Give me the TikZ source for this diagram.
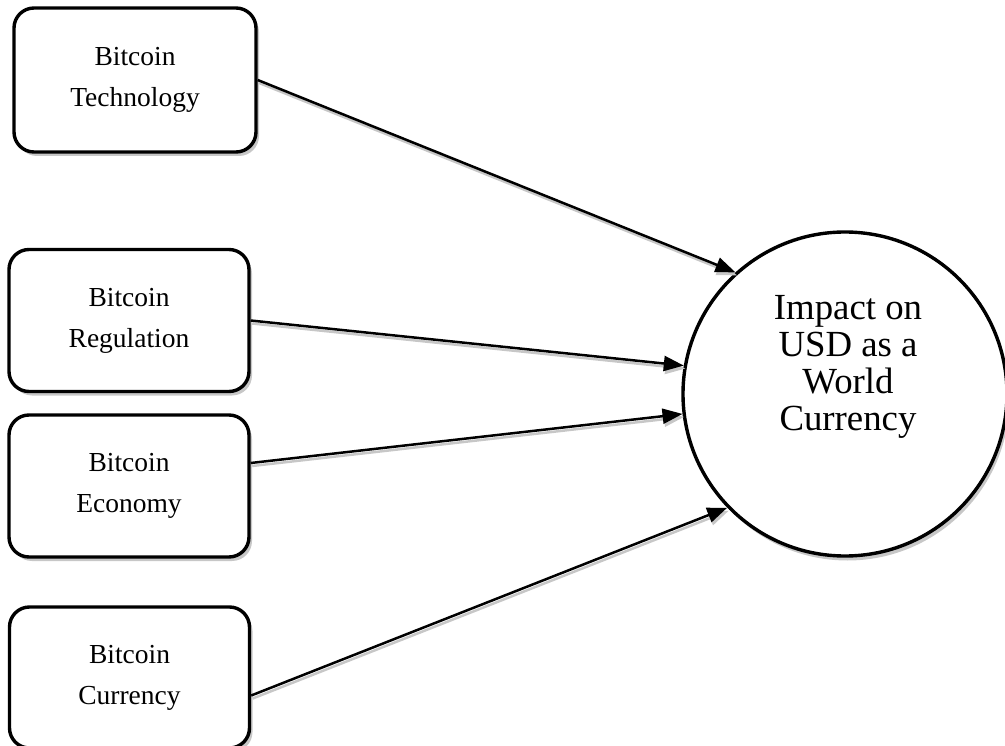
\documentclass[tikz,border=0pt]{standalone}
\usepackage{fontspec}
\setmainfont{Liberation Serif}
\usetikzlibrary{arrows.meta,shadows}
\begin{document}
\begin{tikzpicture}[x=1pt,y=-1pt,
  factor/.style={draw=black, line width=3.4pt, fill=white, rounded corners=20pt,
    minimum width=240pt, minimum height=142pt, align=center,
    font=\fontsize{27.5}{41}\selectfont,
    drop shadow={shadow xshift=3pt, shadow yshift=-4pt, fill=black!22, opacity=1}},
  outcome/.style={draw=black, line width=3.4pt, fill=white, circle, minimum size=324pt,
    drop shadow={shadow xshift=2.5pt, shadow yshift=-4.5pt, fill=black!22, opacity=1}},
  link/.style={line width=2.5pt, -{Triangle[length=20pt,width=15pt]},
    preaction={draw=black!22, line width=2.5pt, transform canvas={shift={(1.5pt,-3pt)}}}}
]
\useasboundingbox (0,0) rectangle (1005,746);
\node[factor, minimum width=242pt, minimum height=144pt] (tech) at (135,80) {Bitcoin\\Technology};
\node[factor] (reg) at (129,320.5) {Bitcoin\\Regulation};
\node[factor] (eco) at (129,486) {Bitcoin\\Economy};
\node[factor, minimum height=141pt] (cur) at (129.5,677.5) {Bitcoin\\Currency};
\node[outcome] (imp) at (845,394) {};
\node[align=center, font=\fontsize{36.8}{37}\selectfont] (imptext) at (848,367) {Impact on\\USD as a\\World\\Currency};
\draw[link] (tech.east) -- (imp.132);
\draw[link] (reg.east) -- (imp.170.5);
\draw[link] ([yshift=23pt]eco.east) -- (imp.187.5);
\draw[link] ([yshift=-18pt]cur.east) -- (imp.224);
\end{tikzpicture}
\end{document}
